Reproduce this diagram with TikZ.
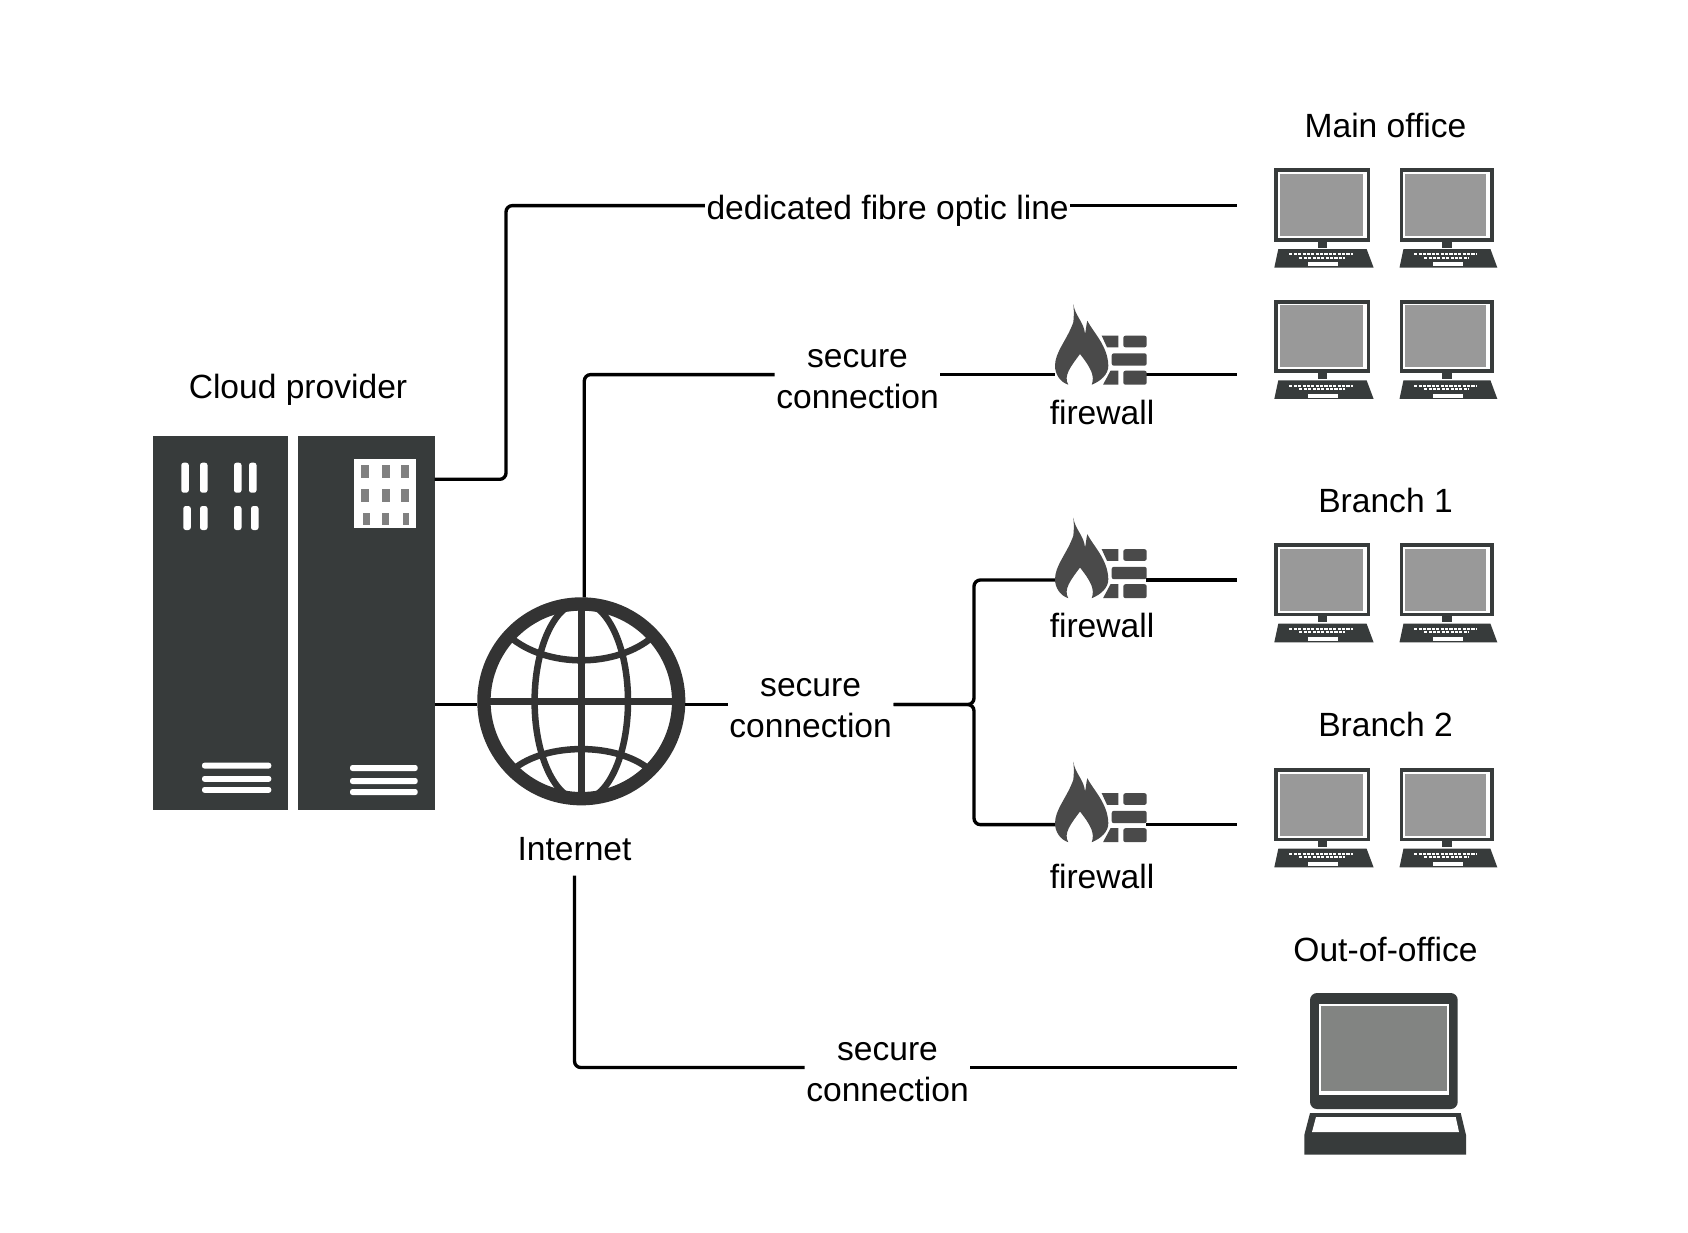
\documentclass[tikz,border=0pt]{standalone}
\usepackage{fontspec}
\setmainfont{Liberation Sans}
\usetikzlibrary{positioning}
\definecolor{serverdark}{RGB}{55,59,59}
\definecolor{globedark}{RGB}{51,51,51}
\definecolor{firedark}{RGB}{74,74,74}
\definecolor{screengrey}{RGB}{153,153,153}
\definecolor{laptopgrey}{RGB}{130,132,130}
\definecolor{cellgrey}{RGB}{128,128,128}
\tikzset{
    tag/.style={font=\fontsize{9.55}{11.7}\selectfont,align=center,inner sep=0.3pt,text=black},
    wire/.style={draw=black,line width=0.95pt,rounded corners=1.8pt},
    serverbox/.style={fill=serverdark,draw=none,inner sep=0pt,outer sep=0pt,minimum height=3.74cm},
    globering/.style={circle,draw=globedark,line width=3.8pt,fill=white,inner sep=0pt,minimum size=1.946cm},
    globeline/.style={draw=globedark,line width=1.85pt},
    spot/.style={inner sep=0pt,outer sep=0pt,minimum height=1pt,minimum width=0.91cm},
    slit/.style={fill=white,rounded corners=0.7pt},
    monitor/.pic={
        \fill[serverdark] (0,0) rectangle (95.7,73.3);
        \fill[white] (4,4) rectangle (92.3,69.7);
        \fill[screengrey] (5.7,5.7) rectangle (88.3,67.7);
        \fill[serverdark] (43.3,73.3) rectangle (53,79.3);
        \fill[serverdark] (4,80.7) -- (92.3,80.7) -- (99.3,99.3) -- (0,99.3) -- cycle;
        \fill[white] (34,94) rectangle (64,98);
        \draw[white,line width=0.55pt,dash pattern=on 0.9pt off 0.35pt] (15,86) -- (79,86);
        \draw[white,line width=0.55pt,dash pattern=on 0.9pt off 0.35pt] (25,89.3) -- (70.7,89.3);
    },
    firewall/.pic={
        \fill[firedark] (18.3,0) .. controls (20,12) and (29,18) .. (30,30)
            .. controls (31,26) and (31,22) .. (32.3,16.7)
            .. controls (38,28) and (53,42) .. (53.3,61.7)
            .. controls (53.5,70) and (46,77) .. (36.7,80.7)
            .. controls (40,72) and (36,64) .. (25,50)
            .. controls (16,62) and (8,72) .. (13.3,80.7)
            .. controls (5,78) and (0,70) .. (0,61.7)
            .. controls (0,48) and (12,36) .. (18.3,18.3)
            .. controls (19,12) and (19,6) .. cycle;
        \fill[firedark] (46.7,31.7) -- (63.3,31.7) -- (63.3,43.3) -- (52,43.3) -- cycle;
        \fill[firedark,rounded corners=0.6pt] (68.3,31.7) rectangle (91.7,43.3);
        \fill[firedark,rounded corners=0.6pt] (56.7,49.3) rectangle (91.7,61.7);
        \fill[firedark] (55.5,66.7) -- (63.3,66.7) -- (63.3,80.7) -- (48,80.7) -- cycle;
        \fill[firedark,rounded corners=0.6pt] (68.3,66.7) rectangle (91.7,80.7);
    }
}

\begin{document}
\begin{tikzpicture}[x=0.01cm,y=-0.01cm]
    \fill[white] (0,0) rectangle (1688,1232);
    \useasboundingbox (0,0) rectangle (1688,1232);

    \node[serverbox,minimum width=1.35cm] (serverA) at (220.8,623.3) {};
    \node[serverbox,minimum width=1.368cm] (serverB) at (366.3,623.3) {};
    \foreach \x in {181.3,200,234,249}
        \fill[slit] (\x,462.7) rectangle ++(7.5,30);
    \foreach \x in {183.3,200,234,251}
        \fill[slit] (\x,506) rectangle ++(7.5,24);
    \foreach \y in {762.7,776,787}
        \fill[slit] (202,\y) rectangle ++(69.3,5.8);
    \foreach \y in {765,778,789}
        \fill[slit] (350,\y) rectangle ++(67.7,6);
    \fill[white] (354,459) rectangle (416,528.3);
    \foreach \x in {361.3,382,401} {
        \fill[cellgrey] (\x,465) rectangle ++(7.7,12.7);
        \fill[cellgrey] (\x,489) rectangle ++(7.7,13.3);
    }
    \foreach \x in {363.3,382,402.7}
        \fill[cellgrey] (\x,513.3) rectangle ++(6.5,11.7);

    \node[globering] (globe) at (581.3,701.3) {};
    \begin{scope}[shift={(globe.center)}]
        \clip (0,0) circle [radius=97];
        \draw[globeline] (0,-97) -- (0,97);
        \draw[globeline] (-97,0) -- (97,0);
        \draw[globeline] (0,0) ellipse [x radius=46.7,y radius=99];
        \draw[globeline] (-72,-65) .. controls (-35,-33) and (35,-33) .. (72,-65);
        \draw[globeline] (-68,68) .. controls (-35,41) and (35,41) .. (68,68);
    \end{scope}

    \node[tag] (cloud) at (298,389.5) {Cloud provider};
    \node[tag,inner ysep=4pt] (internet) at (574.5,849) {Internet};
    \node[tag] (mainoffice) at (1385.5,125) {Main office};
    \node[tag] (branchA) at (1385.5,500) {Branch 1};
    \node[tag] (branchB) at (1385.5,724.6) {Branch 2};
    \node[tag] (outoffice) at (1385.5,949.5) {Out-of-office};

    \node[tag] (fibre) at (887.6,210.6) {dedicated fibre optic line};
    \node[tag] (secA) at (857.5,378.8) {secure\\connection};
    \node[tag] (secB) at (810.6,708) {secure\\connection};
    \node[tag] (secC) at (887.5,1072) {secure\\connection};

    \node[spot] (fwA) at (1100.5,374.6) {};
    \node[spot] (fwB) at (1100.5,580) {};
    \node[spot] (fwC) at (1100.5,824.6) {};
    \node[tag] (fwlabelA) at (1102,412) {firewall};
    \node[tag] (fwlabelB) at (1102,625.5) {firewall};
    \node[tag] (fwlabelC) at (1102,876.3) {firewall};

    \coordinate (mainend) at (1237,205.6);
    \coordinate (mainendB) at (1237,374.6);
    \coordinate (branchendA) at (1237,580);
    \coordinate (branchendB) at (1237,824.6);
    \coordinate (outend) at (1237,1067.5);
    \coordinate (hub) at (974,704.5);
    \coordinate (serverout) at (434.7,479.3);
    \coordinate (fibrebend) at (506,479.3);

    \draw[wire] (serverout) -- (fibrebend) |- (fibre.west |- mainend);
    \draw[wire] (fibre.east |- mainend) -- (mainend);
    \draw[wire] ([xshift=0.03cm]globe.north) |- (secA.west |- fwA);
    \draw[wire] (secA.east |- fwA) -- (fwA.west);
    \draw[wire] (fwA.east) -- (mainendB);
    \draw[wire] (serverB.east |- hub) -- (globe.west |- hub);
    \draw[wire] (globe.east |- hub) -- (secB.west |- hub);
    \draw[wire] (secB.east |- hub) -- (hub) |- (fwB.west);
    \draw[wire] (secB.east |- hub) -- (hub) |- (fwC.west);
    \draw[wire] (fwB.east) -- (branchendA);
    \draw[wire] (fwC.east) -- (branchendB);
    \draw[wire] (internet.south) |- (secC.west |- outend);
    \draw[wire] (secC.east |- outend) -- (outend);

    \pic at (1055,304) {firewall};
    \pic at (1055,517.5) {firewall};
    \pic at (1055,761.5) {firewall};

    \foreach \y in {168.3,299.6,543,768}
        \foreach \x/\s in {1274.3/1,1399.5/0.985}
            \pic[xscale=\s] at (\x,\y) {monitor};

    \fill[serverdark,rounded corners=2pt] (1310,993) rectangle (1457.7,1109);
    \fill[white] (1319.3,1004) rectangle (1449,1094.7);
    \fill[laptopgrey] (1321.3,1006.4) rectangle (1447,1090.7);
    \fill[serverdark] (1310,1113) -- (1460.7,1113) -- (1466,1135) -- (1466,1154.5) -- (1304.3,1154.5) -- (1304.3,1135) -- cycle;
    \fill[white] (1316,1117) -- (1455.7,1117) -- (1459,1132) -- (1312,1132) -- cycle;
\end{tikzpicture}
\end{document}
